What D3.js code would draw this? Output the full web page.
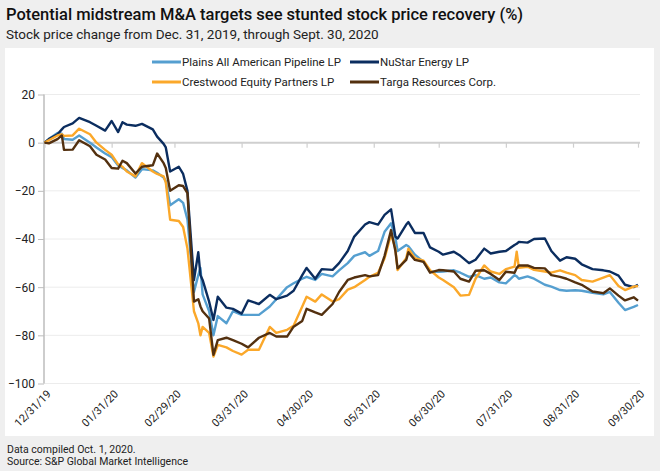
<!DOCTYPE html>
<html>
<head>
<meta charset="utf-8">
<script src="https://cdn.jsdelivr.net/npm/d3@7"></script>
<style>
  body { margin: 0; background: #efefef; font-family: Roboto, "Noto Sans", sans-serif; }
</style>
</head>
<body>
<script>
var dates = ["2019-12-31","2020-01-02","2020-01-06","2020-01-08","2020-01-09","2020-01-13","2020-01-16","2020-01-21","2020-01-24","2020-01-28","2020-01-31",
  "2020-02-03","2020-02-05","2020-02-07","2020-02-11","2020-02-14","2020-02-19","2020-02-21","2020-02-24","2020-02-25","2020-02-27",
  "2020-03-02","2020-03-04","2020-03-06","2020-03-09","2020-03-11","2020-03-12","2020-03-13","2020-03-16","2020-03-18","2020-03-20","2020-03-24","2020-03-27","2020-03-31",
  "2020-04-03","2020-04-08","2020-04-13","2020-04-16","2020-04-21","2020-04-24","2020-04-28","2020-04-30",
  "2020-05-04","2020-05-07","2020-05-12","2020-05-15","2020-05-19","2020-05-22","2020-05-27","2020-05-29",
  "2020-06-02","2020-06-05","2020-06-08","2020-06-10","2020-06-11","2020-06-15","2020-06-16","2020-06-19","2020-06-23","2020-06-26","2020-06-30",
  "2020-07-02","2020-07-07","2020-07-10","2020-07-14","2020-07-17","2020-07-21","2020-07-24","2020-07-28","2020-07-31",
  "2020-08-04","2020-08-05","2020-08-06","2020-08-10","2020-08-13","2020-08-18","2020-08-21","2020-08-25","2020-08-28",
  "2020-09-01","2020-09-04","2020-09-09","2020-09-14","2020-09-17","2020-09-21","2020-09-24","2020-09-28","2020-09-30"];

var plains = [0,1.5,4,3.7,1.5,1.2,3,0,-2,-4.5,-6,
  -9.5,-10.5,-11.5,-14.5,-11,-11.5,-12.5,-14.5,-16,-26,
  -23.5,-25,-32,-62,-55,-52,-63,-70,-80,-72,-75,-70,-71.5,
  -71.5,-71.5,-68,-65,-60,-58.4,-56.5,-55.7,
  -57,-54.5,-55.5,-53,-50,-47,-45.5,-47,
  -45,-37,-33.5,-39.5,-45,-42.5,-43,-46.5,-49.5,-53.5,-53.6,
  -53.5,-53,-54,-55.7,-55,-56.5,-56,-58,-58.4,
  -55,-55.5,-56.5,-55.5,-56.5,-59,-59.8,-61.2,-61.5,
  -61.3,-61.5,-62.3,-63,-62,-66.5,-69.5,-68.2,-67.4];

var nustar = [0,1.5,3.5,5.5,6.5,8,10.3,8.5,7,5,9,
  4.4,8.5,7.5,7,7.8,5.5,2.5,-0.5,-2,-12,
  -10,-13,-20,-57,-45.5,-55,-57,-66,-73.6,-64,-68.5,-69,-71,
  -65.5,-67,-63.2,-65,-63.5,-61.5,-55,-52,
  -56.5,-52.5,-52.8,-50,-45,-39,-34,-33,
  -34,-30,-27.7,-39,-39.8,-34,-33,-37.5,-37.5,-43.5,-45.3,
  -46.5,-45.3,-47,-50,-48.6,-44,-46,-45.3,-45,
  -42.5,-42,-41.2,-41.5,-40,-39.8,-45,-49,-47.6,
  -48.2,-50.5,-52.5,-53,-53.5,-55.2,-59,-60,-59];

var crestwood = [0,1,3,3.5,2.8,3,5.8,3.5,0,-3,-5,
  -9,-10,-12,-14,-8.5,-12,-13,-14,-16.5,-32,
  -32.5,-35,-44,-70,-75,-80,-76.5,-79,-88.8,-84,-85,-86.5,-88,
  -86,-86,-76.5,-79,-77.7,-76,-68,-64,
  -66,-63,-66,-65,-61,-60,-57,-55.7,
  -54,-48,-38,-44,-52.9,-48,-44,-48,-49,-52.9,-56,
  -57,-60,-63.5,-63.2,-56.5,-51,-53.5,-54.5,-52.5,
  -51.5,-45.3,-52,-51.5,-52.8,-53.5,-54,-53,-54,
  -55,-57,-57.7,-56,-55,-59.5,-61.2,-59.8,-59.5];

var targa = [0,-0.3,1.5,3,-3,-2.9,1,-1.5,-5,-7,-10.5,
  -10.8,-7.5,-8.5,-12.8,-10,-9.4,-4.5,-8.5,-10.5,-20,
  -17.7,-18,-21,-66,-65,-68,-70,-73,-88.1,-82,-81,-82,-83.5,
  -85,-81,-79,-80.5,-80.5,-76.4,-74,-69,
  -70.5,-71.5,-67,-62,-57,-56,-55,-55.5,
  -55,-47,-36.3,-45,-52.2,-48.7,-45.5,-48.7,-49.5,-54,-52.9,
  -53,-53.5,-56.5,-57.7,-53.2,-53,-54.5,-57,-53.6,
  -54,-52,-51,-51,-52,-52.2,-55,-55.7,-56.5,
  -58,-59,-61.8,-62.5,-60.5,-63.5,-65.5,-64.2,-65.6];

var seriesNames = ["Plains All American Pipeline LP", "NuStar Energy LP", "Crestwood Equity Partners LP", "Targa Resources Corp."];
var seriesValues = [plains, nustar, crestwood, targa];
var seriesColors = ["#559fd0", "#0b2d5f", "#fba82a", "#53300f"];
var yTicks = [20, 0, -20, -40, -60, -80, -100];
var xTickLabels = ["12/31/19","01/31/20","02/29/20","03/31/20","04/30/20","05/31/20","06/30/20","07/31/20","08/31/20","09/30/20"];

var width = 660, height = 471;
var parse = d3.timeParse("%Y-%m-%d");
var fmt = d3.timeParse("%m/%d/%y");

var svg = d3.select("body").append("svg").attr("width", width).attr("height", height);

svg.append("rect").attr("x", 0).attr("y", 0).attr("width", width).attr("height", height).attr("fill", "#efefef");
svg.append("rect").attr("x", 5).attr("y", 48).attr("width", 649).attr("height", 388).attr("fill", "#ffffff");

svg.append("text").attr("x", 6).attr("y", 20)
  .attr("font-size", "16.5px").attr("font-weight", 500).attr("fill", "#111")
  .text("Potential midstream M&A targets see stunted stock price recovery (%)");
svg.append("text").attr("x", 6).attr("y", 39)
  .attr("font-size", "13.5px").attr("fill", "#222")
  .text("Stock price change from Dec. 31, 2019, through Sept. 30, 2020");

var x = d3.scaleTime().domain([parse("2019-12-31"), parse("2020-09-30")]).range([44.5, 638]);
var y = d3.scaleLinear().domain([-100, 20]).range([383.5, 94.5]);

// gridlines
svg.append("g")
  .selectAll("line")
  .data(yTicks.filter(d => d !== 0))
  .enter()
  .append("line")
  .attr("x1", 44).attr("x2", 640)
  .attr("y1", d => y(d)).attr("y2", d => y(d))
  .attr("stroke", "#ececec").attr("stroke-width", 1);

// y axis
var yAxis = svg.append("g").attr("transform", "translate(44,0)")
  .call(d3.axisLeft(y).tickValues(yTicks).tickSize(6).tickPadding(3));
yAxis.select(".domain").attr("stroke", "#bdbdbd").attr("stroke-width", 1.5).attr("d", "M0," + y(20) + "V" + y(-100));
yAxis.selectAll(".tick line").attr("stroke", "#bdbdbd");
yAxis.selectAll("text").attr("font-size", "12px").attr("fill", "#222").attr("font-family", "Roboto, sans-serif");

// zero line with month ticks
var tickDates = xTickLabels.map(fmt);
var zeroAxis = svg.append("g").attr("transform", "translate(0," + y(0) + ")")
  .call(d3.axisBottom(x).tickValues(tickDates).tickSize(5).tickFormat(""));
zeroAxis.select(".domain").attr("stroke", "#cfcfcf").attr("stroke-width", 2).attr("d", "M44,0H640");
zeroAxis.selectAll(".tick line").attr("stroke", "#cfcfcf").attr("stroke-width", 1.2);

// bottom labels
var xAxis = svg.append("g").attr("transform", "translate(0,388)")
  .call(d3.axisBottom(x).tickValues(tickDates).tickSize(0).tickFormat(d3.timeFormat("%m/%d/%y")));
xAxis.select(".domain").remove();
xAxis.selectAll("text")
  .attr("font-size", "11px").attr("fill", "#222").attr("font-family", "Roboto, sans-serif")
  .attr("text-anchor", "end")
  .attr("dy", "0.35em").attr("y", 0).attr("x", 0)
  .attr("transform", "translate(4,4) rotate(-45)");

// lines
var line = d3.line()
  .x((d, i) => x(parse(dates[i])))
  .y(d => y(d));

svg.append("g")
  .selectAll("path")
  .data(seriesValues)
  .enter()
  .append("path")
  .attr("d", line)
  .attr("fill", "none")
  .attr("stroke", (d, i) => seriesColors[i])
  .attr("stroke-width", 2.4)
  .attr("stroke-linejoin", "round");

// legend
var legPos = [[152, 62], [350, 62], [152, 82], [350, 82]];
var leg = svg.append("g").attr("id", "legend");
leg.selectAll("line")
  .data(seriesNames)
  .enter()
  .append("line")
  .attr("x1", (d, i) => legPos[i][0])
  .attr("x2", (d, i) => legPos[i][0] + 29)
  .attr("y1", (d, i) => legPos[i][1])
  .attr("y2", (d, i) => legPos[i][1])
  .attr("stroke", (d, i) => seriesColors[i])
  .attr("stroke-width", 3);
leg.selectAll("text")
  .data(seriesNames)
  .enter()
  .append("text")
  .attr("x", (d, i) => legPos[i][0] + 30)
  .attr("y", (d, i) => legPos[i][1] + 4)
  .attr("font-size", "11.5px").attr("fill", "#222")
  .text(d => d);

// footer
svg.append("text").attr("x", 7).attr("y", 453).attr("font-size", "10.5px").attr("fill", "#222")
  .text("Data compiled Oct. 1, 2020.");
svg.append("text").attr("x", 7).attr("y", 465).attr("font-size", "10.5px").attr("fill", "#222")
  .text("Source: S&P Global Market Intelligence");
</script>
</body>
</html>
